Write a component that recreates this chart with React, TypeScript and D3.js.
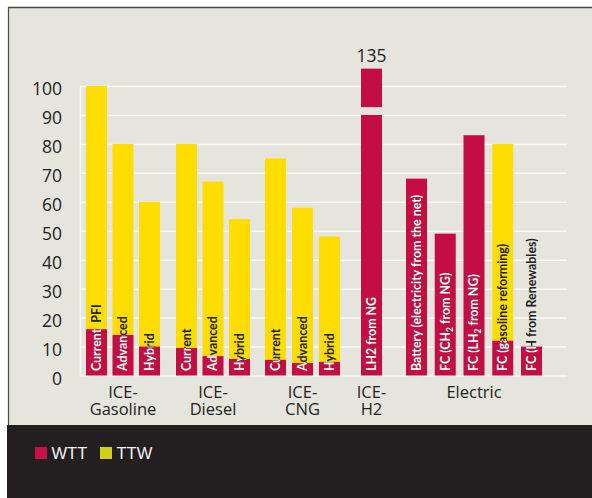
import React, { useRef, useEffect } from 'react';
import * as d3 from 'd3';

// data
const groupNames = ['ICE-\nGasoline', 'ICE-\nDiesel', 'ICE-\nCNG', 'ICE-\nH2', 'Electric'];
const barLabels = [
  'Current\u00A0 PFI', 'Advanced', 'Hybrid',
  'Current', 'Advanced', 'Hybrid',
  'Current', 'Advanced', 'Hybrid',
  'LH2 from NG',
  'Battery (electricity from the net)', 'FC (CH₂ from NG)', 'FC (LH₂ from NG)',
  'FC (gasoline reforming)', 'FC (H from Renewables)',
];
const barGroup = [0, 0, 0, 1, 1, 1, 2, 2, 2, 3, 4, 4, 4, 4, 4];
const wttValues = [16, 14, 10, 9.5, 6.7, 5.7, 5.4, 4.3, 4.7, 135, 68, 49, 83, 12, 10];
const ttwValues = [84, 66, 50, 70.5, 60.3, 48.3, 69.6, 53.7, 43.3, 0, 0, 0, 0, 68, 0];
const yTicks = [0, 10, 20, 30, 40, 50, 60, 70, 80, 90, 100];
const legendItems = ['WTT', 'TTW'];

// axis break for the off-scale bar
const breakLow = 90;
const breakHigh = 92.7;
const breakCap = 106;

const W = 592;
const H = 498;
const plotLeft = 80;
const gridRight = 567;
const barWidth = 21;
// horizontal extent of each group of bars
const groupRanges: [number, number][] = [[86, 165.5], [176, 255.5], [265, 346], [361, 388], [406, 549.75]];

const WTT_COLOR = '#C40D42';
const TTW_COLOR = '#FFDD00';
const INK = '#231F20';
const FONT = '"Open Sans", "Noto Sans", sans-serif';
const LABEL_FONT = 'Lato, "Open Sans", sans-serif';
const LABEL_SIZE = 12.4;

const y = d3.scaleLinear().domain([0, 100]).range([375.5, 86]);

const groupScales = groupRanges.map((r, g) => {
  const keys = barLabels.map((_, i) => i).filter(i => barGroup[i] === g).map(String);
  return d3.scaleBand<string>().domain(keys).range(r).padding(0);
});
const barX = (i: number) => groupScales[barGroup[i]](String(i)) as number;

function labelSpans(label: string) {
  const parts = label.split('₂');
  const out: React.ReactNode[] = [];
  parts.forEach((p, k) => {
    out.push(<tspan key={'p' + k} dy={k > 0 ? -3 : undefined} fontSize={k > 0 ? LABEL_SIZE : undefined}>{p}</tspan>);
    if (k < parts.length - 1) out.push(<tspan key={'s' + k} dy={3} fontSize={8.5}>2</tspan>);
  });
  return out;
}

const App: React.FC = () => {
  const axisRef = useRef<SVGGElement>(null);

  useEffect(() => {
    if (!axisRef.current) return;
    const g = d3.select(axisRef.current);
    g.selectAll('*').remove();
    g.call(
      d3.axisLeft(y)
        .tickValues(yTicks)
        .tickSize(-(gridRight - plotLeft))
        .tickSizeOuter(0)
        .tickPadding(18)
    );
    g.attr('font-family', FONT).attr('font-size', 17.5);
    g.select('.domain').attr('stroke', '#FAFAF6').attr('stroke-width', 1.5);
    g.selectAll('.tick line').attr('stroke', '#FAFAF6').attr('stroke-width', 1.5);
    g.selectAll('.tick text').attr('fill', INK).attr('dy', '0.5em');
  }, []);

  const wttTop = (i: number) => (wttValues[i] > 100 ? breakCap : wttValues[i]);

  return (
    <svg width={W} height={H} style={{ position: 'absolute', left: 0, top: 0 }}>
      <rect x={0} y={0} width={W} height={H} fill="#fff" />
      <rect x={8} y={7} width={W - 8} height={418} fill="#E5E4DD" />
      <line x1={8} x2={W} y1={7.5} y2={7.5} stroke="#4A4A4A" strokeWidth={1.5} />
      <line x1={8.5} x2={8.5} y1={7} y2={425} stroke="#4A4A4A" strokeWidth={1.2} />
      <rect x={7} y={425} width={W - 7} height={H - 425} fill={INK} />

      <g ref={axisRef} transform={`translate(${plotLeft},0)`} />

      <defs>
        {barLabels.map((_, i) => (
          <clipPath key={i} id={`wtt-clip-${i}`}>
            <rect x={barX(i)} y={y(wttTop(i))} width={barWidth} height={y(0) - y(wttTop(i))} />
          </clipPath>
        ))}
      </defs>

      {barLabels.map((label, i) => {
        const x0 = barX(i);
        const cx = x0 + barWidth / 2;
        const wtt = wttValues[i];
        const ttw = ttwValues[i];
        const broken = wtt > 100;
        const text = (fill: string) => (
          <text
            transform={`translate(${cx},371) rotate(-90)`}
            dy="0.36em"
            fontFamily={LABEL_FONT}
            fontWeight={700}
            fontSize={LABEL_SIZE}
            fill={fill}
          >
            {labelSpans(label)}
          </text>
        );
        return (
          <g key={i}>
            {ttw > 0 && (
              <rect x={x0} y={y(wtt + ttw)} width={barWidth} height={y(wtt) - y(wtt + ttw)} fill={TTW_COLOR} />
            )}
            {broken ? (
              <>
                <rect x={x0} y={y(breakLow)} width={barWidth} height={y(0) - y(breakLow)} fill={WTT_COLOR} />
                <rect x={x0} y={y(breakCap)} width={barWidth} height={y(breakHigh) - y(breakCap)} fill={WTT_COLOR} />
                <text x={cx} y={y(breakCap) - 6.5} textAnchor="middle" fontFamily={FONT} fontSize={17.5} fill={INK}>
                  {wtt}
                </text>
              </>
            ) : (
              <rect x={x0} y={y(wtt)} width={barWidth} height={y(0) - y(wtt)} fill={WTT_COLOR} />
            )}
            {text(INK)}
            <g clipPath={`url(#wtt-clip-${i})`}>{text('#FFFFFF')}</g>
          </g>
        );
      })}

      {groupNames.map((name, g) => {
        const idx = barLabels.map((_, i) => i).filter(i => barGroup[i] === g);
        const left = barX(idx[0]);
        const right = barX(idx[idx.length - 1]) + barWidth;
        const cx = (left + right) / 2;
        return name.split('\n').map((line, k) => (
          <text key={g + '-' + k} x={cx} y={398 + k * 17} textAnchor="middle" fontFamily={FONT} fontSize={16.5} fill={INK}>
            {line}
          </text>
        ));
      })}

      {legendItems.map((item, k) => (
        <g key={item} transform={`translate(${35 + k * 65},447)`}>
          <rect width={12} height={12} fill={k === 0 ? '#C8104A' : '#CFD01A'} />
          <text x={16.5} y={12.3} fontFamily='"Liberation Sans", Arial, sans-serif' fontSize={16.5} fill="#F2F2F2">
            {item}
          </text>
        </g>
      ))}
    </svg>
  );
};

export default App;
